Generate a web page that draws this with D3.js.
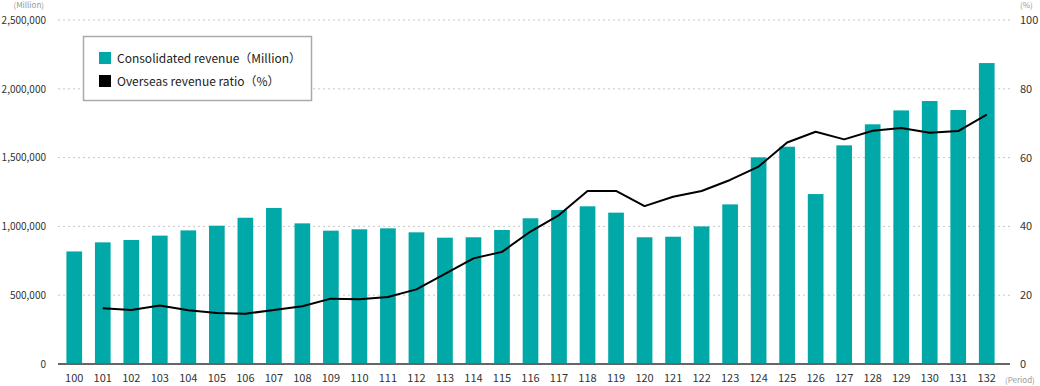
<!DOCTYPE html>
<html>
<head>
<meta charset="utf-8">
<script src="https://cdn.jsdelivr.net/npm/d3@7"></script>
<style>
  body { margin: 0; background: #fff; }
  svg { display: block; font-family: "Noto Sans CJK JP", "Noto Sans", sans-serif; }
</style>
</head>
<body>
<svg id="chart" width="1040" height="386"></svg>
<script>
// data
var periods = d3.range(100, 133).map(String);

var revenue = [
  818000, 884000, 901000, 933000, 971000, 1005000, 1063000, 1134000, 1022000, 969000,
  979000, 986000, 957000, 918000, 921000, 974000, 1059000, 1119000, 1146000, 1100000,
  921000, 925000, 1000000, 1160000, 1502000, 1579000, 1235000, 1589000, 1742000, 1843000,
  1911000, 1846000, 2187000
];

// overseas ratio (%), no value for period 100
var ratio = [
  null, 16.2, 15.7, 17.0, 15.6, 14.8, 14.6, 15.7, 16.8, 19.0,
  18.8, 19.5, 21.7, 26.2, 30.7, 32.6, 38.5, 43.3, 50.3, 50.3,
  45.9, 48.6, 50.3, 53.5, 57.4, 64.4, 67.5, 65.3, 67.8, 68.6,
  67.2, 67.7, 72.5
];

var leftTicks = [0, 500000, 1000000, 1500000, 2000000, 2500000];
var rightTicks = [0, 20, 40, 60, 80, 100];

var legendLabels = ["Consolidated revenue（Million）", "Overseas revenue ratio（%）"];
var legendColors = ["#00a8a8", "#000"];

var svg = d3.select("#chart");

var plot = { left: 58, right: 1010, top: 20, bottom: 364 };

// scales
var x = d3.scaleBand()
    .domain(periods)
    .range([60, 1001])
    .paddingInner(0.45)
    .paddingOuter(0.225);

var y = d3.scaleLinear()
    .domain([0, 2500000])
    .range([plot.bottom, plot.top]);

var y2 = d3.scaleLinear()
    .domain([0, 100])
    .range([plot.bottom, plot.top]);

// grid lines
svg.append("g")
    .selectAll("line")
    .data(leftTicks.slice(1))
    .enter().append("line")
        .attr("x1", plot.left)
        .attr("x2", plot.right)
        .attr("y1", function(d){ return y(d); })
        .attr("y2", function(d){ return y(d); })
        .attr("stroke", "#c8c8c8")
        .attr("stroke-dasharray", "2,3");

// left axis labels
var yAxisCall = d3.axisLeft(y)
    .tickValues(leftTicks)
    .tickSize(0)
    .tickPadding(0)
    .tickFormat(d3.format(","));
var yAxis = svg.append("g")
    .attr("transform", "translate(46,0)")
    .call(yAxisCall);
yAxis.select(".domain").remove();
yAxis.selectAll("text")
    .attr("font-size", "10px")
    .attr("fill", "#333")
    .attr("font-family", "Noto Sans CJK JP");

// right axis labels
var y2AxisCall = d3.axisRight(y2)
    .tickValues(rightTicks)
    .tickSize(0)
    .tickPadding(0);
var y2Axis = svg.append("g")
    .attr("transform", "translate(1020,0)")
    .call(y2AxisCall);
y2Axis.select(".domain").remove();
y2Axis.selectAll("text")
    .attr("font-size", "11px")
    .attr("fill", "#333")
    .attr("font-family", "Noto Sans CJK JP");

// bars
svg.append("g")
    .selectAll("rect")
    .data(revenue)
    .enter().append("rect")
        .attr("x", function(d, i){ return x(periods[i]); })
        .attr("y", function(d){ return y(d); })
        .attr("width", x.bandwidth())
        .attr("height", function(d){ return y(0) - y(d); })
        .attr("fill", legendColors[0]);

// baseline
svg.append("line")
    .attr("x1", plot.left)
    .attr("x2", plot.right)
    .attr("y1", plot.bottom)
    .attr("y2", plot.bottom)
    .attr("stroke", "#666")
    .attr("stroke-width", 2);

// x axis labels
var xAxisCall = d3.axisBottom(x).tickSize(0).tickPadding(0);
var xAxis = svg.append("g")
    .attr("transform", "translate(0,374)")
    .call(xAxisCall);
xAxis.select(".domain").remove();
xAxis.selectAll("text")
    .attr("font-size", "11px")
    .attr("fill", "#333")
    .attr("font-family", "Noto Sans CJK JP");

// ratio line
var line = d3.line()
    .defined(function(d){ return d != null; })
    .x(function(d, i){ return x(periods[i]) + x.bandwidth() / 2; })
    .y(function(d){ return y2(d); });

svg.append("path")
    .datum(ratio)
    .attr("fill", "none")
    .attr("stroke", "#000")
    .attr("stroke-width", 2)
    .attr("stroke-linejoin", "round")
    .attr("d", line);

// unit labels
svg.append("text")
    .attr("x", 44).attr("y", 8)
    .attr("text-anchor", "end")
    .attr("font-size", "8px")
    .attr("fill", "#999")
    .text("(Million)");
svg.append("text")
    .attr("x", 1020).attr("y", 8)
    .attr("font-size", "8px")
    .attr("fill", "#999")
    .text("(%)");
svg.append("text")
    .attr("x", 1005).attr("y", 383)
    .attr("font-size", "8px")
    .attr("fill", "#999")
    .text("(Period)");

// legend
var legend = svg.append("g");
legend.append("rect")
    .attr("x", 83.5).attr("y", 36.5)
    .attr("width", 228).attr("height", 64)
    .attr("fill", "#fff")
    .attr("stroke", "#aaa")
    .attr("stroke-width", 1.5);

var items = legend.selectAll("g.item")
    .data(legendLabels)
    .enter().append("g")
        .attr("class", "item")
        .attr("transform", function(d, i){ return "translate(99," + (52 + i * 23) + ")"; });
items.append("rect")
    .attr("width", 12).attr("height", 12)
    .attr("fill", function(d, i){ return legendColors[i]; });
items.append("text")
    .attr("x", 18).attr("y", 10.5)
    .attr("font-size", "12px")
    .attr("fill", "#222")
    .text(function(d){ return d; });
</script>
</body>
</html>
